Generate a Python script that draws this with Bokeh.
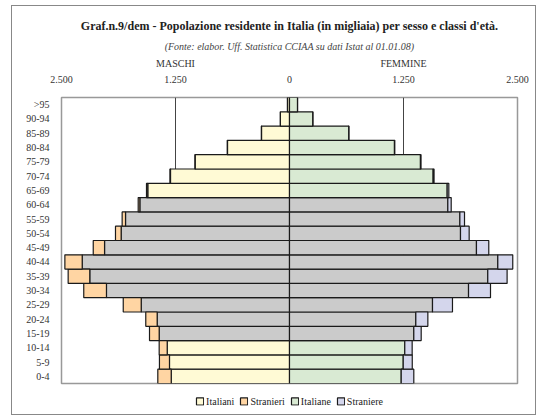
from bokeh.plotting import figure
from bokeh.layouts import column
from bokeh.models import (ColumnDataSource, FactorRange, LinearAxis, FixedTicker,
                          Legend, LegendItem, Title, Range1d)
from bokeh.embed import file_html
from bokeh.resources import INLINE

# ---- data (thousands), bottom (0-4) to top (>95) ----
ages = ["0-4", "5-9", "10-14", "15-19", "20-24", "25-29", "30-34", "35-39",
        "40-44", "45-49", "50-54", "55-59", "60-64", "65-69", "70-74",
        "75-79", "80-84", "85-89", "90-94", ">95"]
italiani = [1297, 1316, 1341, 1429, 1451, 1626, 2007, 2190, 2273, 2028,
            1846, 1798, 1641, 1554, 1305, 1034, 680, 307, 100, 22]
stranieri = [147, 110, 88, 106, 125, 197, 249, 237, 190, 124,
             62, 37, 18, 14, 6, 3, 2, 1, 0, 0]
italiane = [1225, 1247, 1264, 1363, 1385, 1568, 1963, 2174, 2284, 2050,
            1875, 1868, 1736, 1729, 1575, 1436, 1151, 650, 256, 88]
straniere = [138, 99, 81, 81, 132, 219, 241, 212, 164, 135,
             95, 51, 37, 18, 10, 6, 3, 1, 0, 0]
x_ticks = [-2500, -1250, 0, 1250, 2500]
x_tick_labels = ["2.500", "1.250", "0", "1.250", "2.500"]
sex_labels = ["MASCHI", "FEMMINE"]
series_names = ["Italiani", "Stranieri", "Italiane", "Straniere"]

FONT = "Liberation Serif"
YELLOW = "#FFFAD5"
ORANGE = "#FFD5A3"
GREEN = "#D9EAD3"
LAVENDER = "#D4D6EC"
GRAY = "#CBCBCB"
working = set(ages[3:13])

src = ColumnDataSource(dict(
    age=ages,
    m_it_l=[-v for v in italiani],
    m_st_l=[-(a + b) for a, b in zip(italiani, stranieri)],
    m_st_r=[-v for v in italiani],
    f_it_r=italiane,
    f_st_r=[a + b for a, b in zip(italiane, straniere)],
    zero=[0] * len(ages),
    m_fill=[GRAY if a in working else YELLOW for a in ages],
    f_fill=[GRAY if a in working else GREEN for a in ages],
))

line_kw = dict(line_color="#1a1a1a", line_width=1.2, height=1.0)


def add_bars(fig, visible=True):
    rs = [
        fig.hbar(y="age", left="m_it_l", right="zero", fill_color="m_fill", source=src, **line_kw),
        fig.hbar(y="age", left="m_st_l", right="m_st_r", fill_color=ORANGE, source=src, **line_kw),
        fig.hbar(y="age", left="zero", right="f_it_r", fill_color="f_fill", source=src, **line_kw),
        fig.hbar(y="age", left="f_it_r", right="f_st_r", fill_color=LAVENDER, source=src, **line_kw),
    ]
    for r in rs:
        r.visible = visible
    return rs


p = figure(width=523, height=381, output_backend="svg", toolbar_location=None,
           y_range=FactorRange(*ages), x_range=Range1d(-2500, 2500),
           x_axis_location=None, title=None,
           min_border_left=49, min_border_right=18, min_border_bottom=4,
           min_border_top=91)

p.outline_line_color = "#999999"
p.outline_line_width = 1.5
p.ygrid.visible = False
p.xgrid.ticker = FixedTicker(ticks=[-1250, 1250])
p.xgrid.grid_line_color = "#444444"
p.xgrid.grid_line_width = 1

add_bars(p)

ya = p.yaxis[0]
ya.axis_line_color = None
ya.major_tick_line_color = None
ya.minor_tick_line_color = None
ya.major_label_text_font = FONT
ya.major_label_text_font_size = "10px"
ya.major_label_text_color = "#333333"
ya.major_label_standoff = 6

ax1 = LinearAxis(ticker=FixedTicker(ticks=x_ticks),
                 major_label_overrides={t: l for t, l in zip(x_ticks, x_tick_labels)})
ax2 = LinearAxis(ticker=FixedTicker(ticks=[-1250, 1250]),
                 major_label_overrides={-1250: sex_labels[0], 1250: sex_labels[1]})
for ax, so in ((ax1, 15), (ax2, 4)):
    ax.axis_line_color = None
    ax.major_tick_line_color = None
    ax.minor_tick_line_color = None
    ax.major_tick_out = 0
    ax.major_tick_in = 0
    ax.major_label_text_font = FONT
    ax.major_label_text_font_size = "10px"
    ax.major_label_text_color = "#333333"
    ax.major_label_standoff = so
    ax.major_label_orientation = "horizontal"
p.add_layout(ax1, "above")
p.add_layout(ax2, "above")

sub = Title(text="(Fonte: elabor. Uff. Statistica CCIAA su dati Istat al 01.01.08)",
            align="center", text_font=FONT, text_font_size="10px",
            text_font_style="italic", text_color="#444444", standoff=5)
main = Title(text="Graf.n.9/dem - Popolazione residente in Italia (in migliaia) per sesso e classi d'età.",
             align="center", text_font=FONT, text_font_size="12px",
             text_font_style="bold", text_color="#222222", standoff=8)
p.add_layout(sub, "above")
p.add_layout(main, "above")

# ---- legend strip below the chart ----
leg = figure(width=523, height=27, output_backend="svg", toolbar_location=None,
             y_range=FactorRange(*ages), x_range=Range1d(-2500, 2500),
             x_axis_location=None, y_axis_location=None, title=None,
             min_border_left=0, min_border_right=0, min_border_top=0,
             min_border_bottom=0)
leg.outline_line_color = None
leg.grid.visible = False
leg_rs = add_bars(leg, visible=False)

legend = Legend(items=[LegendItem(label=n, renderers=[r], index=0)
                       for n, r in zip(series_names, leg_rs)],
                orientation="horizontal", location="center",
                label_text_font=FONT, label_text_font_size="10px",
                label_text_color="#222222",
                glyph_width=9, glyph_height=9, spacing=5, label_standoff=2,
                padding=2, margin=0, border_line_color=None,
                background_fill_alpha=0)
leg.add_layout(legend, "center")

layout = column(p, leg, spacing=0,
                styles={"border": "1px solid #888888", "margin-left": "11px",
                        "margin-top": "5px"})

open("out.html", "w").write(file_html(layout, INLINE))
